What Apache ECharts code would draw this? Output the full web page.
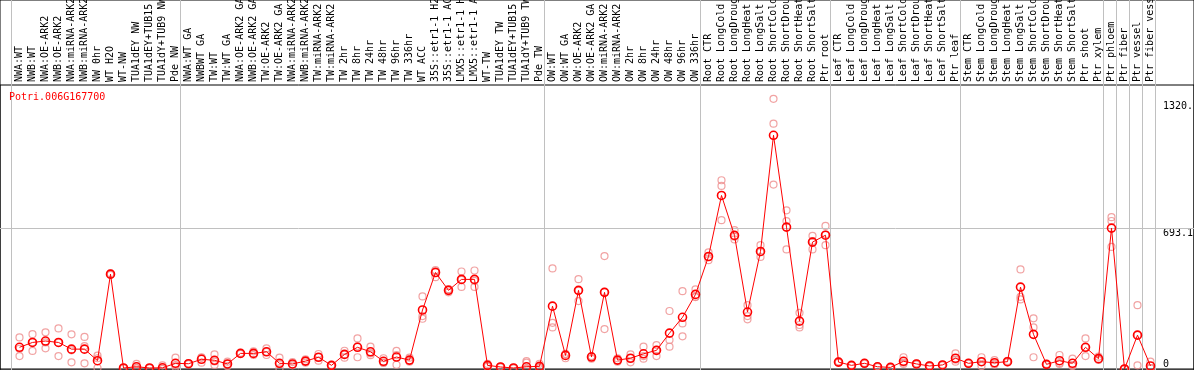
<!DOCTYPE html>
<html><head><meta charset="utf-8">
<script src="https://cdn.jsdelivr.net/npm/echarts@6/dist/echarts.min.js"></script>
<style>html,body{margin:0;padding:0;background:#fff}#c{width:1194px;height:370px}</style>
</head><body><div id="c"></div><script>
const chartTitle = 'Potri.006G167700';
const categories = [
 'NWA:WT','NWB:WT','NWA:OE-ARK2','NWB:OE-ARK2','NWA:miRNA-ARK2','NWB:miRNA-ARK2','NW 0hr','WT H2O','WT-NW','TUA1dEY NW',
 'TUA1dEY+TUB15 NW','TUA1dY+TUB9 NW','Pde NW','NWA:WT GA','NWBWT GA','TW:WT','TW:WT GA','NWA:OE-ARK2 GA','NWB:OE-ARK2 GA','TW:OE-ARK2',
 'TW:OE-ARK2 GA','NWA:miRNA-ARK2','NWB:miRNA-ARK2','TW:miRNA-ARK2','TW:miRNA-ARK2','TW 2hr','TW 8hr','TW 24hr','TW 48hr','TW 96hr',
 'TW 336hr','WT ACC','35S::etr1-1 H2O','35S::etr1-1 ACC','LMX5::etr1-1 H2O','LMX5::etr1-1 ACC','WT-TW','TUA1dEY TW','TUA1dEY+TUB15 TW','TUA1dY+TUB9 TW',
 'Pde TW','OW:WT','OW:WT GA','OW:OE-ARK2','OW:OE-ARK2 GA','OW:miRNA-ARK2','OW:miRNA-ARK2','OW 2hr','OW 8hr','OW 24hr',
 'OW 48hr','OW 96hr','OW 336hr','Root CTR','Root LongCold','Root LongDrought','Root LongHeat','Root LongSalt','Root ShortCold','Root ShortDrought',
 'Root ShortHeat','Root ShortSalt','Ptr root','Leaf CTR','Leaf LongCold','Leaf LongDrought','Leaf LongHeat','Leaf LongSalt','Leaf ShortCold','Leaf ShortDrought',
 'Leaf ShortHeat','Leaf ShortSalt','Ptr leaf','Stem CTR','Stem LongCold','Stem LongDrought','Stem LongHeat','Stem LongSalt','Stem ShortCold','Stem ShortDrought',
 'Stem ShortHeat','Stem ShortSalt','Ptr shoot','Ptr xylem','Ptr phloem','Ptr fiber','Ptr vessel','Ptr fiber vessel'
];
const means = [107,131,138,131,98,98,41,468,5,11, 5,6,28,26,48,43,25,77,77,85, 28,25,39,58,18,72,107,85,38,59,
 44,291,476,388,442,442,18,10,5,11, 13,310,67,388,59,378,44,53,75,92, 177,255,368,555,856,659,281,580,1153,700,
 236,626,660,34,18,28,11,8,38,25, 15,20,53,28,36,31,36,404,171,23, 41,28,107,51,695,0,167,15];
const rep1 = [156,172,181,200,171,158,66,472,7,25, 6,18,56,28,58,72,36,80,87,102, 56,34,48,74,20,90,151,110,53,89,
 56,358,488,394,481,486,25,12,7,39, 26,496,75,443,62,557,53,72,110,118, 286,384,393,575,931,685,315,611,1333,783,
 277,657,706,38,20,30,13,10,58,28, 18,22,77,30,58,44,40,491,250,25, 69,51,151,61,749,2,315,36];
const rep2 = [64,89,102,64,33,28,53,464,3,3, 4,2,18,24,31,20,14,74,69,69, 3,18,31,41,16,56,58,68,30,21,
 36,248,453,378,405,405,12,8,3,2, 4,228,53,335,51,197,36,33,51,64, 110,161,356,537,734,639,245,553,910,590,
 205,590,611,31,16,26,9,6,25,22, 12,18,36,26,15,22,32,343,58,21, 25,15,64,45,602,0,18,5];
const rep3 = [100,132,131,130,92,113,5,468,5,6, 5,0,10,26,55,37,25,77,76,84, 25,23,39,59,18,71,112,77,31,68,
 40,261,483,392,440,435,17,10,5,31, 9,205,73,387,64,380,43,54,64,94, 143,225,355,553,903,653,261,576,1210,729,
 217,631,663,33,18,28,11,8,31,25, 15,20,46,28,35,27,36,356,205,23, 29,18,106,47,730,0,168,4];
const groupStarts = [0,13,41,53,63,73,84,85,86,87,88];
const midLine = 693.1;
const yLabelValues = [693.1, 1320];
const yLabelTexts = {'693.1':'693.1','1320':'1320.'};
const zeroLabel = [0];

const FONT = 'DejaVu Sans Mono';
const X_MIN = -1.5, X_MAX = (1194 - 19.5) / 13;
const Y_MAX = 1401;
const repColor = '#ee8c8c';

const chart = echarts.init(document.getElementById('c'), null, {renderer:'canvas'});
const pts = arr => arr.map((v,i) => v == null ? null : [i, v]);
const repSeries = [rep1, rep2, rep3].map(r => ({
  type:'scatter', xAxisIndex:0, yAxisIndex:0, data: pts(r), symbol:'circle', symbolSize:7,
  itemStyle:{color:'transparent', borderColor:repColor, borderWidth:1.2}, z:3, silent:true
}));
const gridBase = {outerBoundsMode:'none', containLabel:false};
chart.setOption({
  animation:false,
  title:{text:chartTitle, left:9, top:92, padding:0, textStyle:{color:'#ff0000', fontFamily:FONT, fontSize:10, fontWeight:'normal'}},
  grid:[
    Object.assign({left:0, right:0, top:85, bottom:1, show:true, borderColor:'#000', borderWidth:1, backgroundColor:'transparent'}, gridBase),
    Object.assign({left:0, right:0, top:0, bottom:0, show:true, borderColor:'#000', borderWidth:1, backgroundColor:'transparent'}, gridBase),
    Object.assign({left:13, width:1144, top:85, bottom:1}, gridBase)
  ],
  xAxis:[
    {gridIndex:0, type:'value', min:X_MIN, max:X_MAX, show:false},
    {gridIndex:1, type:'value', min:X_MIN, max:X_MAX, show:false},
    {gridIndex:2, type:'category', position:'top', data:categories, boundaryGap:true,
     axisLine:{show:false}, axisTick:{show:false}, splitLine:{show:false},
     axisLabel:{interval:0, rotate:90, margin:3, color:'#000', fontFamily:FONT, fontSize:10, hideOverlap:false}}
  ],
  yAxis:[
    {gridIndex:0, type:'value', min:0, max:Y_MAX, position:'right',
     axisLine:{show:false}, axisTick:{show:false}, splitLine:{show:false},
     axisLabel:{inside:true, margin:31, align:'left', verticalAlign:'top', customValues:yLabelValues,
       formatter: v => yLabelTexts[String(v)] || String(v), color:'#000', fontFamily:FONT, fontSize:10}},
    {gridIndex:0, type:'value', min:0, max:Y_MAX, position:'right',
     axisLine:{show:false}, axisTick:{show:false}, splitLine:{show:false},
     axisLabel:{inside:true, margin:31, align:'left', verticalAlign:'bottom', customValues:zeroLabel,
       color:'#000', fontFamily:FONT, fontSize:10}},
    {gridIndex:1, type:'value', min:0, max:1, show:false},
    {gridIndex:2, type:'value', min:0, max:1, show:false}
  ],
  series:[
    {type:'line', xAxisIndex:1, yAxisIndex:2, data:[], z:1, silent:true,
     markLine:{symbol:'none', silent:true, label:{show:false}, lineStyle:{color:'#c0c0c0', width:1, type:'solid'},
       data: groupStarts.map(k => ({xAxis: k - 8/13}))}},
    {type:'line', xAxisIndex:0, yAxisIndex:0, data:[], z:1, silent:true,
     markLine:{symbol:'none', silent:true, label:{show:false}, lineStyle:{color:'#c0c0c0', width:1, type:'solid'},
       data:[{yAxis:midLine}]}},
    ...repSeries,
    {type:'line', xAxisIndex:0, yAxisIndex:0, data:pts(means), symbol:'circle', symbolSize:8,
     lineStyle:{color:'#ff0000', width:1}, itemStyle:{color:'transparent', borderColor:'#ff0000', borderWidth:1.6},
     z:5, silent:true}
  ]
});
</script></body></html>
